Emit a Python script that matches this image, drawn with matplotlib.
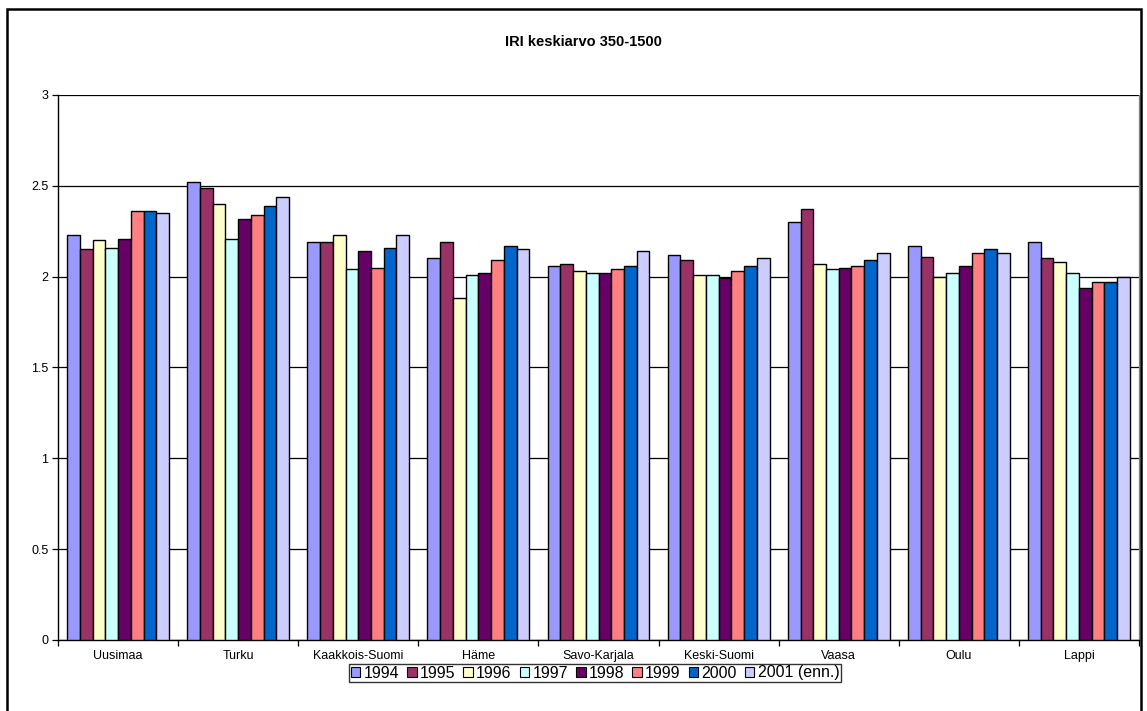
import numpy as np
import matplotlib.pyplot as plt
from matplotlib.patches import Rectangle
from matplotlib.ticker import FixedLocator, FormatStrFormatter

plt.rcParams['font.family'] = ['Liberation Sans', 'DejaVu Sans']

regions = ['Uusimaa', 'Turku', 'Kaakkois-Suomi', 'Häme', 'Savo-Karjala',
           'Keski-Suomi', 'Vaasa', 'Oulu', 'Lappi']
years = ['1994', '1995', '1996', '1997', '1998', '1999', '2000', '2001 (enn.)']

iri_1994 = [2.23, 2.52, 2.19, 2.10, 2.06, 2.12, 2.30, 2.17, 2.19]
iri_1995 = [2.15, 2.49, 2.19, 2.19, 2.07, 2.09, 2.37, 2.11, 2.10]
iri_1996 = [2.20, 2.40, 2.23, 1.88, 2.03, 2.01, 2.07, 2.00, 2.08]
iri_1997 = [2.16, 2.21, 2.04, 2.01, 2.02, 2.01, 2.04, 2.02, 2.02]
iri_1998 = [2.21, 2.32, 2.14, 2.02, 2.02, 1.99, 2.05, 2.06, 1.94]
iri_1999 = [2.36, 2.34, 2.05, 2.09, 2.04, 2.03, 2.06, 2.13, 1.97]
iri_2000 = [2.36, 2.39, 2.16, 2.17, 2.06, 2.06, 2.09, 2.15, 1.97]
iri_2001 = [2.35, 2.44, 2.23, 2.15, 2.14, 2.10, 2.13, 2.13, 2.00]

series = [iri_1994, iri_1995, iri_1996, iri_1997,
          iri_1998, iri_1999, iri_2000, iri_2001]
colors = ['#9999FF', '#993366', '#FFFFCC', '#CCFFFF',
          '#660066', '#FF8080', '#0066CC', '#CCCCFF']

fig = plt.figure(figsize=(11.47, 7.11), dpi=100)
ax = fig.add_axes([0.0506, 0.0999, 0.9424, 0.7665])

x = np.arange(len(regions))
bar_w = 0.106
for i, (vals, c, lab) in enumerate(zip(series, colors, years)):
    offs = (i - 3.5) * bar_w
    ax.bar(x + offs, vals, width=bar_w, color=c, edgecolor='black',
           linewidth=1.0, label=lab, zorder=3)

ax.set_xlim(-0.5, len(regions) - 0.5)
ax.set_ylim(0, 3)
ax.set_yticks([0, 0.5, 1, 1.5, 2, 2.5, 3])
ax.yaxis.set_major_formatter(FormatStrFormatter('%g'))
ax.yaxis.grid(True, color='black', linewidth=0.9, zorder=0)

ax.set_xticks(x)
ax.set_xticklabels(regions)
ax.xaxis.set_minor_locator(FixedLocator(np.arange(-0.5, len(regions), 1.0)))
ax.tick_params(axis='x', which='major', length=0, pad=7, labelsize=9)
ax.tick_params(axis='x', which='minor', length=4, direction='out', width=0.9)
ax.tick_params(axis='y', length=4, direction='out', width=0.9, labelsize=9, pad=3)

for side in ['left', 'bottom']:
    ax.spines[side].set_color('black')
    ax.spines[side].set_linewidth(1.0)
ax.spines['top'].set_visible(False)
ax.spines['right'].set_color('#808080')
ax.spines['right'].set_linewidth(0.9)

fig.text(583 / 1147, 1 - 42 / 711, 'IRI keskiarvo 350-1500',
         ha='center', va='center', fontsize=10.5, fontweight='bold')

leg = fig.legend(loc='center', bbox_to_anchor=(595 / 1147, 1 - 673 / 711),
                 ncol=8, fontsize=11.5, frameon=True, fancybox=False,
                 handlelength=0.6, handleheight=0.6, handletextpad=0.2,
                 columnspacing=0.5, borderpad=0.1, borderaxespad=0)
leg.get_frame().set_edgecolor('black')
leg.get_frame().set_linewidth(1.0)
for h in leg.legend_handles:
    h.set_linewidth(0.8)

# chart frame
fig.patches.append(Rectangle((7 / 1147, -0.01), 1134 / 1147, 1 - 9 / 711 + 0.01,
                             transform=fig.transFigure, fill=False,
                             edgecolor='black', linewidth=1.8))

fig.savefig('out.png', dpi=100)
